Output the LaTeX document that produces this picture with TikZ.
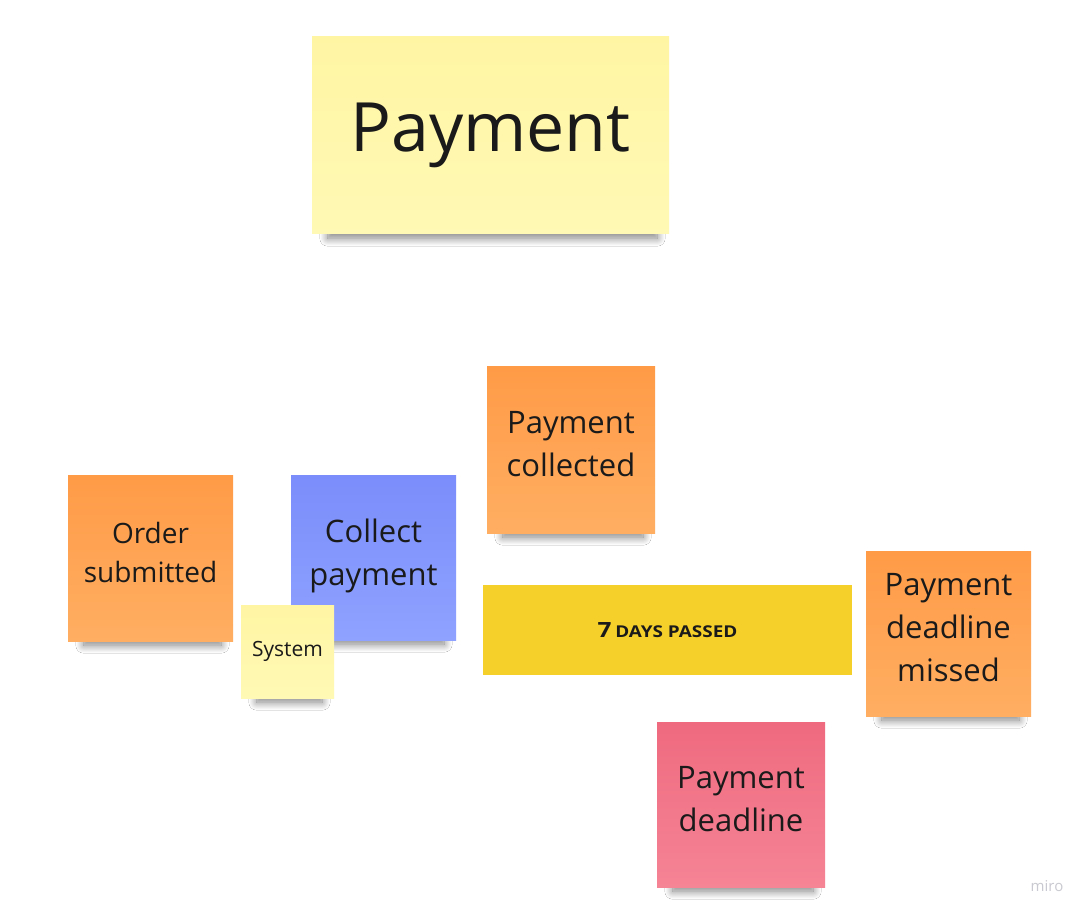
\documentclass[tikz,border=0pt]{standalone}
\usepackage{fontspec}
\setmainfont{Open Sans}
\usetikzlibrary{shadows.blur,backgrounds}
\definecolor{ltyelA}{HTML}{FFF5A3}
\definecolor{ltyelB}{HTML}{FFF9B5}
\definecolor{orangeA}{HTML}{FF9B47}
\definecolor{orangeB}{HTML}{FFAE62}
\definecolor{blueA}{HTML}{7A8DFB}
\definecolor{blueB}{HTML}{8FA2FF}
\definecolor{pinkA}{HTML}{EF6A7F}
\definecolor{pinkB}{HTML}{F58495}
\definecolor{goldY}{HTML}{F5D02A}
\definecolor{inkc}{HTML}{1A1A1A}
\definecolor{wmark}{HTML}{C9C9D1}
\newcommand{\stk}[2][3pt]{\raisebox{#1}[\height][\depth]{\begin{tabular}{@{}c@{}}#2\end{tabular}}}
\tikzset{
  x=1pt, y=-1pt,
  sticky/.style={rectangle, inner sep=0pt, align=center, text=inkc},
  ltyel/.style={sticky, top color=ltyelA, bottom color=ltyelB},
  orng/.style={sticky, top color=orangeA, bottom color=orangeB},
  blu/.style={sticky, top color=blueA, bottom color=blueB},
  pnk/.style={sticky, top color=pinkA, bottom color=pinkB},
  gld/.style={rectangle, inner sep=0pt, fill=goldY, text=inkc, align=center},
  big/.style={font=\fontsize{31}{43}\selectfont},
  shd/.style={blur shadow={shadow xshift=0pt, shadow yshift=0pt, shadow scale=1,
      shadow blur radius=8pt, shadow blur steps=16, shadow opacity=50}},
}
\newcommand{\noteshadow}[1]{%
  \path[shd] ([xshift=16pt,yshift=12pt]#1.south west) rectangle ([xshift=-12pt,yshift=-4pt]#1.south east);}
\begin{document}
\begin{tikzpicture}
\useasboundingbox (0,0) rectangle (1090,917);

\node[ltyel, minimum width=357pt, minimum height=197pt,
  font=\fontsize{68}{80}\selectfont] (title) at (490.5,135.5) {Payment};

\node[orng, big, minimum width=168pt, minimum height=166pt] (collected) at (571,450)
  {\stk[3.5pt]{Payment\\collected}};

\node[orng, minimum width=165pt, minimum height=166pt,
  font=\fontsize{28}{39}\selectfont] (order) at (150.5,558)
  {\stk{Order\\submitted}};

\node[blu, big, minimum width=165pt, minimum height=165pt] (collect) at (373.5,557.5)
  {\stk[2.5pt]{Collect\\payment}};

\node[ltyel, minimum width=93pt, minimum height=93pt,
  font=\fontsize{21}{26}\selectfont] (system) at (287.5,651.5) {System};

\node[gld, minimum width=369pt, minimum height=90pt] (passed) at (667.5,630)
  {\scalebox{1.22}[1.05]{\bfseries\fontsize{20}{24}\selectfont 7\hspace{3pt}\fontsize{15.5}{20}\selectfont DAYS PASSED}};

\node[orng, big, minimum width=165pt, minimum height=165pt] (missed) at (948.5,633.5)
  {\stk[3.5pt]{Payment\\deadline\\missed}};

\node[pnk, big, minimum width=168pt, minimum height=165pt] (deadline) at (741,804.5)
  {\stk{Payment\\deadline}};

\node[text=wmark, font=\fontsize{15}{18}\selectfont] (miro) at (1047,886) {miro};

\begin{scope}[on background layer]
  \fill[white] (0,0) rectangle (1090,917);
  \noteshadow{title}
  \noteshadow{collected}
  \noteshadow{order}
  \noteshadow{collect}
  \noteshadow{system}
  \noteshadow{missed}
  \noteshadow{deadline}
\end{scope}
\end{tikzpicture}
\end{document}
